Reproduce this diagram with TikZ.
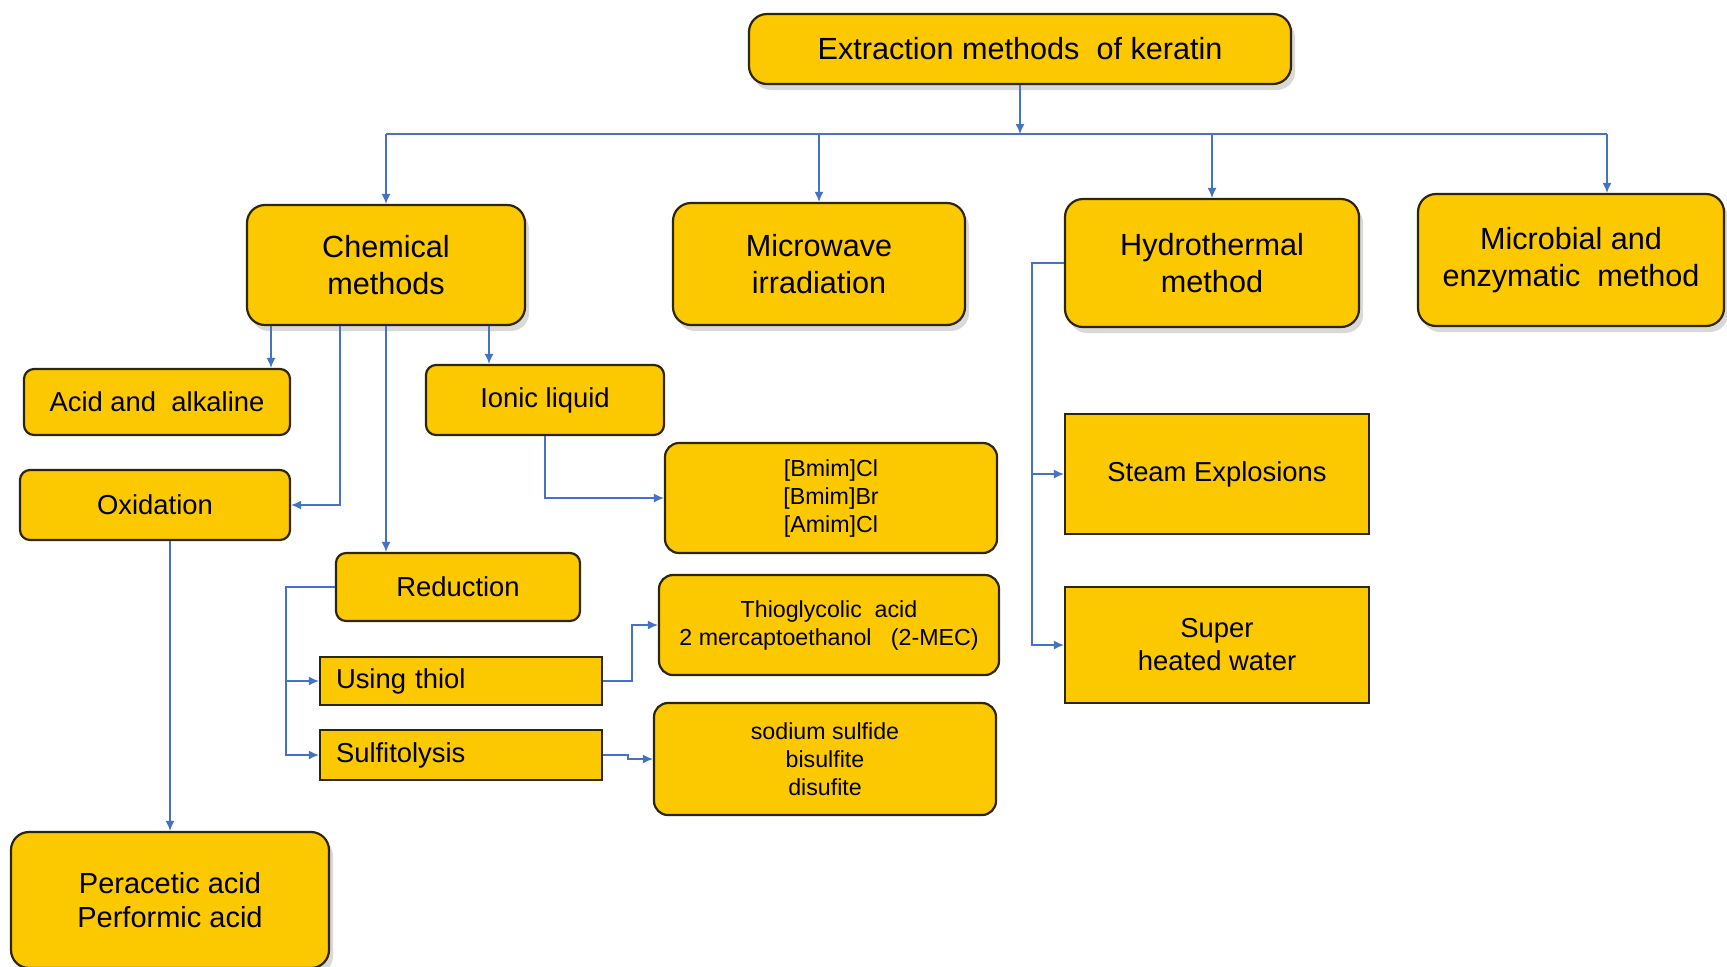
\documentclass[tikz,border=0pt]{standalone}
\usepackage{fontspec}
\setmainfont{Liberation Sans}
\usetikzlibrary{arrows.meta,shadows}
\definecolor{keratinGold}{RGB}{252,200,0}
\definecolor{keratinEdge}{RGB}{45,38,8}
\definecolor{linkBlue}{RGB}{68,114,196}

\begin{document}
\begin{tikzpicture}[x=0.5pt, y=-0.5pt,
    box/.style={draw=keratinEdge, fill=keratinGold, line width=1.1pt, rounded corners=5pt, align=center, inner sep=2pt, font=\fontsize{13.7}{16.5}\selectfont},
    mainbox/.style={box, rounded corners=9pt, font=\fontsize{15.3}{18.5}\selectfont, drop shadow={opacity=0.3, shadow xshift=2pt, shadow yshift=-3pt}},
    listbox/.style={box, rounded corners=7pt, font=\fontsize{11.6}{14}\selectfont},
    flatbox/.style={box, rounded corners=0pt},
    link/.style={draw=linkBlue, line width=0.7pt, -{Latex[length=5pt,width=4.5pt]}},
    wire/.style={draw=linkBlue, line width=0.7pt}]

    \useasboundingbox (0,0) rectangle (1727,966);

    % Node definitions
    \node (top) at (1020,49) [mainbox, minimum width=271pt, minimum height=35pt] {Extraction methods\ \ of keratin};
    \node (chem) at (386,265) [mainbox, minimum width=139pt, minimum height=60pt] {Chemical\\methods};
    \node (micro) at (819,264) [mainbox, minimum width=146pt, minimum height=61pt] {Microwave\\irradiation};
    \node (hydro) at (1212,263) [mainbox, minimum width=147pt, minimum height=64pt] {Hydrothermal\\method};
    \node (micb) at (1571,260) [mainbox, minimum width=153pt, minimum height=66pt] {Microbial and\\enzymatic\ \ method};

    \node (acid) at (157,402) [box, minimum width=133pt, minimum height=33pt] {Acid and\ \ alkaline};
    \node (ionic) at (545,400) [box, minimum width=119pt, minimum height=35pt] {Ionic liquid};
    \node (oxid) at (155,505) [box, minimum width=135pt, minimum height=35pt] {Oxidation};
    \node (reduc) at (458,587) [box, minimum width=122pt, minimum height=34pt] {Reduction};
    \node (using) at (461,681) [flatbox, text width=125pt, inner xsep=8pt, align=left, minimum height=24pt] {Using thiol};
    \node (sulfi) at (461,755) [flatbox, text width=125pt, inner xsep=8pt, align=left, minimum height=25pt] {Sulfitolysis};
    \node (perac) at (170,900) [mainbox, minimum width=159pt, minimum height=68pt, font=\fontsize{14.5}{17}\selectfont] {Peracetic acid\\Performic acid};

    \node (bmim) at (831,498) [listbox, minimum width=166pt, minimum height=55pt] {{[}Bmim{]}Cl\\{[}Bmim{]}Br\\{[}Amim{]}Cl};
    \node (thio) at (829,625) [listbox, minimum width=170pt, minimum height=50pt] {Thioglycolic\ \ acid\\2 mercaptoethanol\ \ \ (2-MEC)};
    \node (sodium) at (825,759) [listbox, minimum width=171pt, minimum height=56pt] {sodium sulfide\\bisulfite\\disufite};

    \node (steam) at (1217,474) [flatbox, minimum width=152pt, minimum height=60pt] {Steam Explosions};
    \node (super) at (1217,645) [flatbox, minimum width=152pt, minimum height=58pt] {Super\\heated water};

    \coordinate (busL) at (386,134);
    \coordinate (busR) at (1607,134);

    % Edge definitions
    \draw[link] (top.south) -- (top.south |- busL);
    \draw[wire] (busL) -- (busR);
    \draw[link] (busL) -- (chem.north);
    \draw[link] (micro.north |- busL) -- (micro.north);
    \draw[link] (hydro.north |- busL) -- (hydro.north);
    \draw[link] (busR) -- (busR |- micb.north);

    \draw[link] ([xshift=57pt]acid.north |- chem.south) -- ([xshift=57pt]acid.north);
    \draw[link] ([xshift=-28pt]ionic.north |- chem.south) -- ([xshift=-28pt]ionic.north);
    \draw[link] ([xshift=-23pt]chem.south) |- (oxid.east);
    \draw[link] (chem.south) -- (chem.south |- reduc.north);
    \draw[link] (ionic.south) |- (bmim.west);
    \draw[link] (perac.north |- oxid.south) -- (perac.north);

    \draw[link] (reduc.west) -- ++(-49,0) |- (using.west);
    \draw[link] (reduc.west) -- ++(-49,0) |- (sulfi.west);
    \draw[link] (using.east) -- ++(29,0) |- (thio.west);
    \draw[link] (sulfi.east) -- ++(25,0) |- (sodium.west);

    \draw[link] (hydro.west) -- ++(-32,0) |- (steam.west);
    \draw[link] (hydro.west) -- ++(-32,0) |- (super.west);
\end{tikzpicture}
\end{document}
